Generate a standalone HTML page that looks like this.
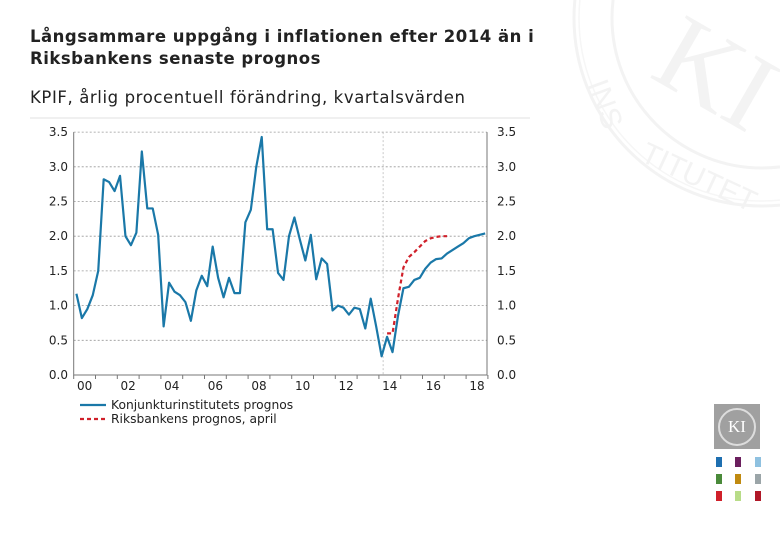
<!DOCTYPE html>
<html><head><meta charset="utf-8">
<style>
body{margin:0;background:#fff;}
#wrap{position:relative;width:780px;height:540px;overflow:hidden;background:#fff;font-family:"DejaVu Sans","Liberation Sans",sans-serif;}
.t{position:absolute;left:30px;color:#222;white-space:nowrap;}
</style></head><body>
<div id="wrap">
<svg width="780" height="540" style="position:absolute;left:0;top:0">
  <circle cx="762" cy="18" r="188" fill="none" stroke="#f3f3f3" stroke-width="3"/>
  <circle cx="762" cy="18" r="183" fill="none" stroke="#f6f6f6" stroke-width="1.5"/>
  <circle cx="762" cy="18" r="150" fill="none" stroke="#f3f3f3" stroke-width="3"/>
  <text x="660" y="90" font-family="Liberation Serif,serif" font-size="110" fill="#f3f3f3" transform="rotate(30 680 60)">KI</text>
  <text x="590" y="100" font-family="Liberation Sans,sans-serif" font-size="30" fill="#f3f3f3" transform="rotate(70 600 90)">INS</text>
  <text x="640" y="165" font-family="Liberation Sans,sans-serif" font-size="30" fill="#f3f3f3" transform="rotate(25 650 160)">TITUTET</text>
</svg>
<div class="t" style="top:26px;font-size:16.5px;letter-spacing:0.5px;font-weight:bold;line-height:22px;">Långsammare uppgång i inflationen efter 2014 än i<br>Riksbankens senaste prognos</div>
<div class="t" style="top:88px;font-size:16.5px;letter-spacing:0.6px;">KPIF, årlig procentuell förändring, kvartalsvärden</div>
<svg id="chart" width="780" height="540" style="position:absolute;left:0;top:0"></svg>
<div style="position:absolute;left:714px;top:404px;width:46px;height:45px;background:#a0a0a0;">
  <div style="position:absolute;left:4px;top:4px;width:34px;height:34px;border:2px solid #ddd;border-radius:50%;color:#fff;font-family:'Liberation Serif',serif;font-size:17px;text-align:center;line-height:34px;">KI</div>
</div>
<svg width="60" height="50" style="position:absolute;left:712px;top:455px">
  <rect x="4" y="2" width="6" height="10" fill="#1e6fb0"/><rect x="23" y="2" width="6" height="10" fill="#6b1f5e"/><rect x="43" y="2" width="6" height="10" fill="#8fc1e0"/>
  <rect x="4" y="19" width="6" height="10" fill="#4a8a3a"/><rect x="23" y="19" width="6" height="10" fill="#c08a10"/><rect x="43" y="19" width="6" height="10" fill="#9ba5a8"/>
  <rect x="4" y="36" width="6" height="10" fill="#d0202a"/><rect x="23" y="36" width="6" height="10" fill="#b8dc88"/><rect x="43" y="36" width="6" height="10" fill="#b01828"/>
</svg>
</div>
<script>
const blue=[1.17,0.82,0.95,1.15,1.5,2.82,2.78,2.65,2.87,2.0,1.87,2.05,3.22,2.4,2.4,2.02,0.7,1.33,1.2,1.15,1.05,0.78,1.22,1.43,1.28,1.85,1.4,1.12,1.4,1.18,1.18,2.2,2.38,3.0,3.43,2.1,2.1,1.47,1.37,2.0,2.27,1.95,1.65,2.02,1.38,1.68,1.6,0.93,1.0,0.97,0.87,0.97,0.95,0.67,1.1,0.7,0.27,0.55,0.33,0.85,1.25,1.27,1.37,1.4,1.53,1.62,1.67,1.68,1.75,1.8,1.85,1.9,1.97,2.0,2.02,2.04];
const redStart=57;
const red=[0.6,0.6,1.1,1.55,1.7,1.77,1.85,1.93,1.97,1.99,2.0,2.0];
const yTicks=[0,0.5,1,1.5,2,2.5,3,3.5];
const yLabels=["0.0","0.5","1.0","1.5","2.0","2.5","3.0","3.5"];
const xLabels=["00","02","04","06","08","10","12","14","16","18"];
const svg=document.getElementById('chart');
const NS='http://www.w3.org/2000/svg';
const X0=73.7,QW=5.45,Y0=375,YU=69.4,XR=487;
const xq=i=>X0+(i+0.5)*QW;
const yv=v=>Y0-v*YU;
function mk(tag,attrs){const e=document.createElementNS(NS,tag);for(const k in attrs)e.setAttribute(k,attrs[k]);svg.appendChild(e);return e;}
let e=mk('line',{x1:30,x2:530,y1:118,y2:118,stroke:'#f0f0f0','stroke-width':2});


yTicks.forEach((v,k)=>{
  if(v>0){const g=mk('line',{x1:X0,x2:XR,y1:yv(v),y2:yv(v),stroke:'#999','stroke-width':0.8,'stroke-dasharray':'2,2'});
  
  }
  const l=mk('text',{x:68,y:yv(v)+4,'text-anchor':'end','font-size':12,fill:'#222','font-family':'DejaVu Sans,sans-serif'});l.textContent=yLabels[k];
  
  
  const r=mk('text',{x:497,y:yv(v)+4,'font-size':12,fill:'#222','font-family':'DejaVu Sans,sans-serif'});r.textContent=yLabels[k];
  
  
});
const vl=mk('line',{x1:xq(56)+1.5,x2:xq(56)+1.5,y1:yv(3.5),y2:Y0,stroke:'#bbb','stroke-width':0.8,'stroke-dasharray':'2,2'});


const ax=mk('path',{d:`M${X0},${yv(3.5)}V${Y0}H${XR}V${yv(3.5)}`,fill:'none',stroke:'#777','stroke-width':1});


for(let y=0;y<=19;y++){const t=mk('line',{x1:X0+y*QW*4,x2:X0+y*QW*4,y1:Y0,y2:Y0+4,stroke:'#777'});

}
xLabels.forEach((s,k)=>{const t=mk('text',{x:X0+(k*2+0.5)*QW*4,y:390,'text-anchor':'middle','font-size':12,fill:'#222','font-family':'DejaVu Sans,sans-serif'});t.textContent=s;

});
const bp=mk('polyline',{points:blue.map((v,i)=>xq(i)+','+yv(v)).join(' '),fill:'none',stroke:'#1a78a8','stroke-width':2.2,'stroke-linejoin':'round'});


const rp=mk('polyline',{points:red.map((v,i)=>xq(i+redStart)+','+yv(v)).join(' '),fill:'none',stroke:'#d0202a','stroke-width':2.2,'stroke-dasharray':'4,3'});


const l1=mk('line',{x1:80,x2:106,y1:405,y2:405,stroke:'#1a78a8','stroke-width':2.2});


const t1=mk('text',{x:111,y:409,'font-size':12.3,fill:'#222','font-family':'DejaVu Sans,sans-serif'});t1.textContent='Konjunkturinstitutets prognos';


const l2=mk('line',{x1:80,x2:106,y1:419,y2:419,stroke:'#d0202a','stroke-width':2.2,'stroke-dasharray':'4,3'});


const t2=mk('text',{x:111,y:423,'font-size':12.3,fill:'#222','font-family':'DejaVu Sans,sans-serif'});t2.textContent='Riksbankens prognos, april';


</script>
</body></html>
